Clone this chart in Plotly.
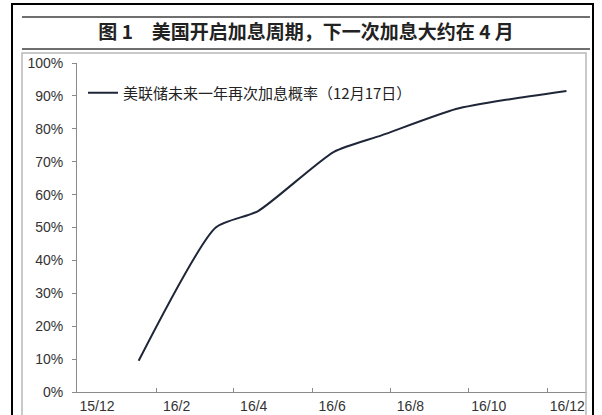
import plotly.graph_objects as go

# ---- data ----
dates = ["2016-01-18", "2016-03-18", "2016-04-20", "2016-06-18",
         "2016-07-25", "2016-09-21", "2016-11-02", "2016-12-16"]
prob = [0.095, 0.50, 0.55, 0.73, 0.78, 0.86, 0.89, 0.915]
series_name = "美联储未来一年再次加息概率（12月17日）"

tick_dates = ["2015-12-01", "2016-02-01", "2016-04-01", "2016-06-01",
              "2016-08-01", "2016-10-01", "2016-12-01"]
tick_text = ["15/12", "16/2", "16/4", "16/6", "16/8", "16/10", "16/12"]
y_ticks = [0, 0.1, 0.2, 0.3, 0.4, 0.5, 0.6, 0.7, 0.8, 0.9, 1.0]
y_text = ["0%", "10%", "20%", "30%", "40%", "50%", "60%", "70%", "80%", "90%", "100%"]
title_text = "<b>图 1　美国开启加息周期，下一次加息大约在 4 月</b>"

W, H = 602, 415
L, R, T, B = 77, 15, 63, 23
PW, PH = W - L - R, H - T - B


def px(x):
    return (x - L) / PW


def py(y):
    return (H - B - y) / PH


fig = go.Figure()
fig.add_trace(go.Scatter(
    x=dates, y=prob, mode="lines", name=series_name,
    line=dict(color="#1e2638", width=2, shape="spline", smoothing=0.6),
))

gray = "#8a8a8a"
shapes = [
    # outer black frame
    dict(type="rect", xref="paper", yref="paper", x0=px(12), x1=px(593), y0=py(430), y1=py(4),
         line=dict(color="#000000", width=2), layer="above"),
    # title rules
    dict(type="line", xref="paper", yref="paper", x0=px(22), x1=px(590), y0=py(17), y1=py(17),
         line=dict(color="#6f6f6f", width=2)),
    dict(type="line", xref="paper", yref="paper", x0=px(22), x1=px(590), y0=py(49), y1=py(49),
         line=dict(color="#6f6f6f", width=2)),
    # chart box
    dict(type="rect", xref="paper", yref="paper", x0=px(22), x1=px(586), y0=py(430), y1=py(53),
         line=dict(color="#b8b8b8", width=1.5)),
]

fig.update_layout(
    width=W, height=H,
    margin=dict(l=L, r=R, t=T, b=B, autoexpand=False),
    paper_bgcolor="white", plot_bgcolor="white",
    font=dict(family="Liberation Sans, Arial, sans-serif", size=14, color="#333333"),
    title=dict(text=title_text, x=306 / W, xanchor="center", y=1 - 32 / H, yanchor="middle",
               xref="container", yref="container",
               font=dict(family="Noto Sans CJK SC", size=19, color="#222222")),
    showlegend=True,
    legend=dict(x=px(83), xanchor="left", y=py(93), yanchor="middle",
                bgcolor="rgba(0,0,0,0)", borderwidth=0, itemwidth=30,
                font=dict(family="Noto Sans CJK SC", size=15, color="#222222")),
    shapes=shapes,
    xaxis=dict(type="date", range=["2015-12-01", "2017-01-01"],
               tickvals=tick_dates, ticktext=tick_text,
               ticks="inside", ticklen=4, tickcolor=gray,
               showline=True, linecolor=gray, linewidth=1,
               showgrid=False, zeroline=False, ticklabelshift=20,
               ticklabelstandoff=1, automargin=False,
               tickfont=dict(size=14, color="#333333")),
    yaxis=dict(range=[0, 1], tickvals=y_ticks, ticktext=y_text,
               ticks="outside", ticklen=4, tickcolor=gray,
               showline=True, linecolor=gray, linewidth=1,
               showgrid=False, zeroline=False, ticklabelstandoff=6,
               automargin=False,
               tickfont=dict(size=14, color="#333333")),
)

fig.write_html("out.html", config={"displayModeBar": False},
               post_script="document.body.style.margin='0px';document.body.style.overflow='hidden';")
